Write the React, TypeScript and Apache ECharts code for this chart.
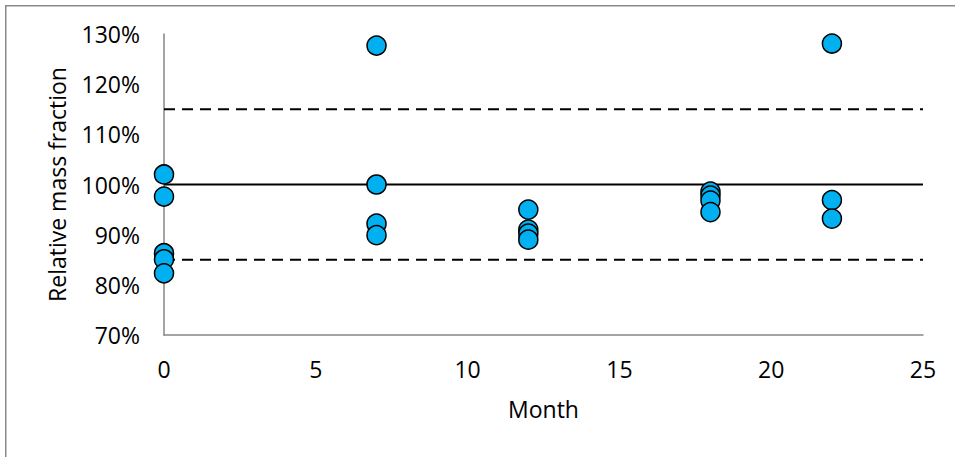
import React, { useEffect, useRef } from "react";
import * as echarts from "echarts";

const months = [0, 0, 0, 0, 0, 7, 7, 7, 7, 12, 12, 12, 12, 18, 18, 18, 18, 22, 22, 22];
const values = [102.0, 97.6, 86.3, 85.1, 82.3, 127.7, 100.0, 92.2, 89.9, 95.0, 91.0, 90.2, 89.0, 98.6, 97.8, 96.8, 94.5, 128.1, 96.9, 93.2];
const xTicks = [0, 5, 10, 15, 20, 25];
const yTicks = [70, 80, 90, 100, 110, 120, 130];
const targetLine = 100;
const upperLimit = 115;
const lowerLimit = 85;

export default function App() {
  const ref = useRef<HTMLDivElement>(null);
  useEffect(() => {
    document.body.style.margin = "0";
    if (!ref.current) return;
    const chart = echarts.init(ref.current, undefined, { renderer: "svg" });
    const font = "'Open Sans', sans-serif";
    const xMin = xTicks[0];
    const xMax = xTicks[xTicks.length - 1];
    chart.setOption({
      animation: false,
      backgroundColor: "#ffffff",
      textStyle: { fontFamily: font },
      graphic: [
        {
          type: "rect",
          shape: { x: 5.75, y: 5.75, width: 980, height: 480 },
          style: { fill: "none", stroke: "#898989", lineWidth: 1.5 },
          silent: true,
        },
      ],
      grid: { left: 164, right: 32, top: 34, bottom: 122, containLabel: false },
      xAxis: {
        type: "value",
        min: xMin,
        max: xMax,
        interval: xTicks[1] - xTicks[0],
        name: "Month",
        nameLocation: "middle",
        nameGap: 62,
        nameTextStyle: { fontSize: 23, color: "#000", fontFamily: font },
        axisLine: { show: true, lineStyle: { color: "#868686", width: 1.5 } },
        axisTick: { show: false },
        splitLine: { show: false },
        axisLabel: { fontSize: 23, color: "#000", margin: 22, fontFamily: font },
      },
      yAxis: {
        type: "value",
        min: yTicks[0],
        max: yTicks[yTicks.length - 1],
        interval: yTicks[1] - yTicks[0],
        name: "Relative mass fraction",
        nameLocation: "middle",
        nameGap: 96,
        nameRotate: 90,
        nameTextStyle: { fontSize: 23, color: "#000", fontFamily: font },
        axisLine: { show: true, lineStyle: { color: "#868686", width: 1.5 } },
        axisTick: { show: false },
        splitLine: { show: false },
        axisLabel: { fontSize: 23, color: "#000", margin: 24, fontFamily: font, formatter: (v: number) => `${v}%` },
      },
      series: [
        {
          type: "line",
          data: [[xMin, upperLimit], [xMax, upperLimit]],
          symbol: "none",
          lineStyle: { color: "#000", width: 2, type: [11, 7] },
          z: 1,
          silent: true,
        },
        {
          type: "line",
          data: [[xMin, lowerLimit], [xMax, lowerLimit]],
          symbol: "none",
          lineStyle: { color: "#000", width: 2, type: [11, 7] },
          z: 1,
          silent: true,
        },
        {
          type: "line",
          data: [[xMin, targetLine], [xMax, targetLine]],
          symbol: "none",
          lineStyle: { color: "#000", width: 2, type: "solid" },
          z: 1,
          silent: true,
        },
        {
          type: "scatter",
          data: months.map((m, i) => [m, values[i]]),
          symbol: "circle",
          symbolSize: 19,
          itemStyle: { color: "#00B0F0", borderColor: "#000", borderWidth: 1.5, opacity: 1 },
          z: 3,
        },
      ],
    });
    return () => chart.dispose();
  }, []);
  return <div ref={ref} style={{ width: 955, height: 457 }} />;
}
